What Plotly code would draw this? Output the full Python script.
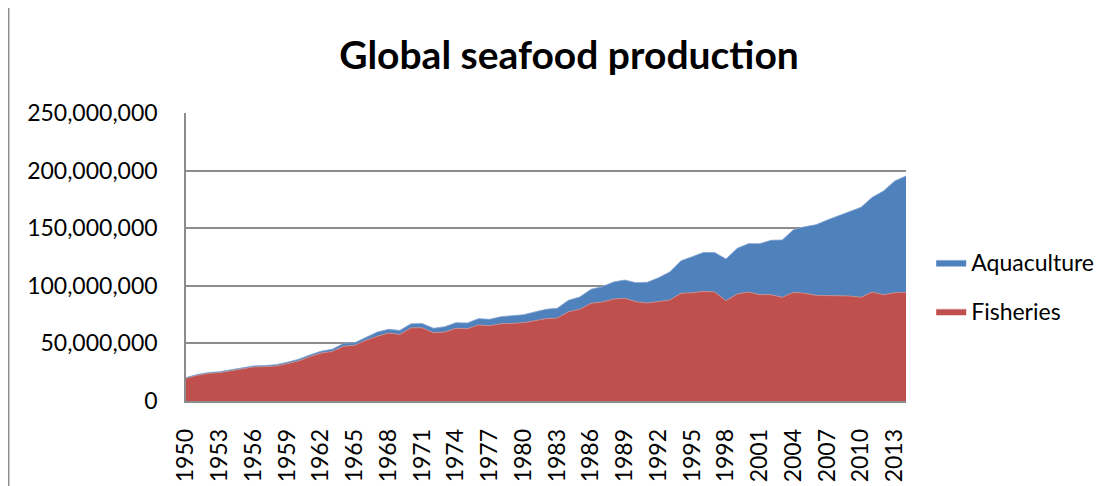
import plotly.graph_objects as go

years = list(range(1950, 2015))

fisheries = [19.7, 22.3, 24.0, 24.6, 26.3, 27.8, 29.5, 29.8, 30.4, 32.4,
             34.8, 38.4, 41.6, 43.0, 47.5, 48.4, 52.8, 56.1, 59.0, 57.8,
             63.5, 63.5, 59.3, 59.9, 63.1, 62.8, 66.0, 65.4, 67.1, 67.4,
             68.0, 69.7, 71.5, 72.0, 77.5, 79.6, 84.8, 85.9, 88.5, 89.1,
             86.2, 85.1, 86.5, 87.6, 93.5, 94.0, 95.2, 94.6, 87.1, 92.9,
             94.6, 92.3, 92.3, 90.0, 94.3, 93.5, 91.7, 91.4, 91.4, 91.1,
             90.0, 94.6, 92.3, 94.0, 94.3]

totals = [20.3, 23.0, 24.7, 25.4, 27.1, 28.7, 30.4, 30.8, 31.5, 33.6,
          36.2, 39.9, 43.2, 44.9, 50.0, 50.6, 55.5, 59.8, 62.2, 61.3,
          67.0, 67.2, 63.1, 64.5, 68.0, 67.7, 71.5, 70.9, 73.2, 73.8,
          74.9, 77.3, 79.6, 80.5, 87.4, 90.3, 97.0, 99.2, 103.3, 105.0,
          102.7, 103.0, 107.0, 112.0, 121.8, 125.3, 129.0, 128.8, 123.3, 132.5,
          136.6, 136.6, 139.5, 139.8, 148.7, 151.3, 153.0, 157.1, 160.6, 164.6,
          168.1, 176.8, 182.3, 191.0, 195.3]

aquaculture = [round(t - f, 2) for t, f in zip(totals, fisheries)]

fish_vals = [v * 1e6 for v in fisheries]
aqua_vals = [v * 1e6 for v in aquaculture]

tick_years = list(range(1950, 2014, 3))
y_ticks = [0, 50e6, 100e6, 150e6, 200e6, 250e6]
y_labels = ["0", "50,000,000", "100,000,000", "150,000,000", "200,000,000", "250,000,000"]

red = "#C0504D"
blue = "#4F81BD"

fig = go.Figure()
fig.add_trace(go.Scatter(
    x=years, y=fish_vals, name="Fisheries", stackgroup="one",
    mode="lines", line=dict(color="#D08A88", width=0.8), fillcolor=red,
    legendgroup="f", legendrank=2))
fig.add_trace(go.Scatter(
    x=years, y=aqua_vals, name="Aquaculture", stackgroup="one",
    mode="lines", line=dict(color="#7FA3D0", width=0.8), fillcolor=blue,
    legendgroup="a", legendrank=1))

font_family = "Lato, 'Liberation Sans', sans-serif"

# page body has an 8px margin; compensate so the plot lands where the reference has it
W, H = 1109, 478
L, T, R, B = 178, 105, 211, 85

fig.update_layout(
    width=W, height=H,
    margin=dict(l=L, r=R, t=T, b=B, autoexpand=False),
    paper_bgcolor="white", plot_bgcolor="white",
    font=dict(family=font_family, size=23, color="black"),
    title=dict(text="<b>Global seafood production</b>", x=(569 - 8) / W, xanchor="center",
               y=1 - 47 / H, yanchor="middle", yref="container",
               font=dict(family=font_family, size=39, color="black")),
    showlegend=True,
    legend=dict(x=1.035, xanchor="left", y=0.396, yanchor="middle",
                traceorder="grouped", tracegroupgap=16, itemwidth=30,
                font=dict(family=font_family, size=23, color="black"),
                bgcolor="rgba(0,0,0,0)"),
    xaxis=dict(range=[1950, 2014], tickmode="array", tickvals=tick_years,
               ticktext=[str(y) for y in tick_years], tickangle=-90,
               showgrid=False, showline=True, linecolor="#8C8C8C", linewidth=1.5,
               ticks="outside", ticklen=0, zeroline=False, ticklabelstandoff=17,
               tickfont=dict(family=font_family, size=23, color="black")),
    yaxis=dict(range=[0, 250e6], tickmode="array", tickvals=y_ticks, ticktext=y_labels,
               showgrid=True, gridcolor="#8C8C8C", gridwidth=1.5,
               showline=True, linecolor="#8C8C8C", linewidth=1.5,
               zeroline=False, ticks="outside", ticklen=0, ticklabelstandoff=22,
               tickfont=dict(family=font_family, size=23, color="black")),
    shapes=[dict(type="line", xref="paper", yref="paper",
                 x0=(0 - L) / 720 + 0.001, x1=(0 - L) / 720 + 0.001,
                 y0=-0.3, y1=1.4, line=dict(color="#8C8C8C", width=1.5))],
)

fig.write_html("out.html")
